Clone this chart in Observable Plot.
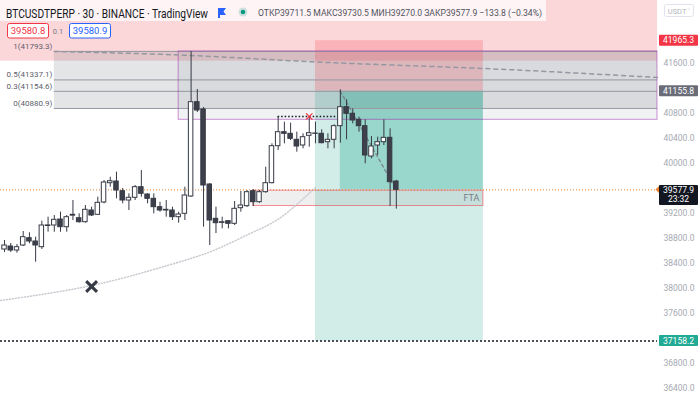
<!DOCTYPE html>
<html><head><meta charset="utf-8">
<script src="https://cdn.jsdelivr.net/npm/d3@7"></script>
<script src="https://cdn.jsdelivr.net/npm/@observablehq/plot@0.6"></script>
<style>
html,body{margin:0;padding:0;background:#fff;}
#chart{position:relative;width:700px;height:398px;overflow:hidden;}
svg{display:block}
</style></head><body><div id="chart"></div>
<script>
// ---- candle data (30m BTCUSDTPERP) ----
const opens  = [38624,38672,38608,38688,38805,38752,38661,39000,39008,39104,38981,39165,39125,39061,39248,39179,39376,39685,39712,39557,39408,39451,39621,39504,39435,39301,39259,39248,39141,39195,39472,40981,40864,39664,39115,39050,39077,39035,39285,39317,39557,39381,39541,39685,40277,40501,40475,40379,40288,40443,40480,40475,40341,40379,40597,40901,40795,40699,40597,40112,40288,40341,40411,39711.5];
const highs  = [38768,38720,38704,38912,38891,38821,39077,39141,39168,39221,39168,39408,39195,39328,39301,39461,39728,39781,39861,39600,39515,39648,39888,39515,39515,39381,39408,39301,39221,39621,41792,41184,40896,39680,39301,39141,39088,39392,39552,39568,39584,39568,39941,40315,40752,40661,40645,40501,40475,40752,40661,40539,40475,40619,41179,41019,40875,40741,40699,40432,40421,40699,40555,39730.5];
const lows   = [38576,38576,38565,38672,38715,38421,38624,38901,38901,38901,38901,39088,39045,39045,39152,39168,39355,39621,39435,39355,39248,39408,39461,39355,39195,39221,39141,39088,39045,39088,39456,40816,38981,38688,38880,38955,38955,39008,39221,39296,39312,39365,39525,39675,40208,40315,40368,40181,40235,40261,40315,40315,40235,40235,40325,40379,40635,40501,39995,40075,40128,40288,39312,39270.0];
const closes = [38688,38608,38661,38821,38752,38688,39008,39010,39099,38981,39141,39179,39061,39259,39168,39371,39696,39717,39568,39408,39451,39621,39515,39435,39301,39248,39248,39141,39184,39488,40981,40848,39648,39088,39045,39061,39035,39275,39328,39541,39381,39541,39685,40277,40501,40475,40395,40272,40421,40485,40475,40325,40379,40597,40901,40795,40688,40597,40128,40272,40341,40411,39701,39577.9];

// ---- axis ticks ----
const axisTicks = [36400,36800,37600,38000,38400,38800,39200,40000,40400,40800,41600];

// ---- fibonacci retracement ----
const fibLevels = [1,0.5,0.3,0];
const fibPrices = [41793.3,41337.1,41154.6,40880.9];
const fibStartBar = 8;

// ---- view ----
const leftBar = -0.65, rightBar = 105;
const priceMin = 36240, priceMax = 42608;

// ---- drawings ----
const lastPrice = 39577.9;
const pinkZone = [41637, 42800];
const rangeBoxBar = 28, rangeBoxLow = 40699, rangeBoxHigh = 41793.3;
const posStartBar = 50, posFilledBar = 54, posEndBar = 77;
const posEntry = 41155.8, posStop = 41965.3, posTarget = 37158.2;
const ftaBars = [40, 77], ftaPrices = [39320, 39565], ftaLabel = "FTA";
const sweepBars = [44, 53.5], sweepPrice = 40752, sweepMarkBar = 49;
const bigMarkBar = 14, bigMarkPrice = 38032;
const curveBars = [-0.65,14,26.2,33.6,39.5,44.4,50];
const curvePrices = [37808,38048,38368,38608,38880,39136,39616];
const dashBars = [8,30,52,77,105];
const dashPrices = [41792,41728,41616,41520,41376];

// ---- header texts ----
const symbolTitle = "BTCUSDTPERP · 30 · BINANCE · TradingView";
const ohlcText = "ОТКР39711.5 МАКС39730.5 МИН39270.0 ЗАКР39577.9 −133.8 (−0.34%)";
const sellPrice = "39580.8", spread = "0.1", buyPrice = "39580.9";
const currency = "USDT ˅";
const countdown = "23:32";

const candles = opens.map((o,i)=>({i, o, h:highs[i], l:lows[i], c:closes[i], up: closes[i] >= o}));
const zone = (x1,x2,y1,y2)=>[{x1,x2,y1,y2}];
const pts = (xs,ys)=>xs.map((x,k)=>({x, y: ys[k]}));

const chart = Plot.plot({
  width: 700, height: 398,
  marginLeft: 0, marginRight: 43, marginTop: 0, marginBottom: 0,
  x: {domain: [leftBar, rightBar], axis: null},
  y: {domain: [priceMin, priceMax], axis: null},
  color: {type: "identity"},
  style: {fontFamily: "Roboto, 'Noto Sans', sans-serif", fontSize: "8.5px", color: "#a6a9b2", background: "#fff"},
  marks: [
    Plot.rect(zone(leftBar, rightBar, pinkZone[0], pinkZone[1]), {x1:"x1",x2:"x2",y1:"y1",y2:"y2", fill:"#f23645", fillOpacity:0.2}),
    Plot.rect(zone(fibStartBar, rightBar, fibPrices[3], fibPrices[0]), {x1:"x1",x2:"x2",y1:"y1",y2:"y2", fill:"#787b86", fillOpacity:0.2}),
    Plot.rect(zone(rangeBoxBar, rightBar, rangeBoxLow, rangeBoxHigh), {x1:"x1",x2:"x2",y1:"y1",y2:"y2", fill:"#787b86", fillOpacity:0.1}),
    Plot.rect(zone(posStartBar, posEndBar, posEntry, posStop), {x1:"x1",x2:"x2",y1:"y1",y2:"y2", fill:"#f23645", fillOpacity:0.22}),
    Plot.rect(zone(posStartBar, posEndBar, posTarget, posEntry), {x1:"x1",x2:"x2",y1:"y1",y2:"y2", fill:"#089981", fillOpacity:0.18}),
    Plot.rect(zone(posFilledBar, posEndBar, lastPrice, posEntry), {x1:"x1",x2:"x2",y1:"y1",y2:"y2", fill:"#089981", fillOpacity:0.28}),
    Plot.rect(zone(ftaBars[0], ftaBars[1], ftaPrices[0], ftaPrices[1]), {x1:"x1",x2:"x2",y1:"y1",y2:"y2", fill:"#787b86", fillOpacity:0.12, stroke:"#f23645", strokeOpacity:0.55}),
    Plot.ruleY(fibPrices.map(p=>({p, x1: fibStartBar, x2: rightBar})), {y:"p", x1:"x1", x2:"x2", stroke:"#9598a1", strokeWidth:1}),
    Plot.rect(zone(rangeBoxBar, rightBar, rangeBoxLow, rangeBoxHigh), {x1:"x1",x2:"x2",y1:"y1",y2:"y2", fill:"none", stroke:"#9c27b0", strokeOpacity:0.5}),
    Plot.line(pts(dashBars, dashPrices), {x:"x", y:"y", stroke:"#9598a1", strokeDasharray:"4,4", curve:"natural"}),
    Plot.line(pts(curveBars, curvePrices), {x:"x", y:"y", stroke:"#c9cbd1", strokeDasharray:"1,2", curve:"natural"}),
    Plot.ruleY([lastPrice], {stroke:"#e9802e", strokeDasharray:"1,2", strokeWidth:1}),
    Plot.line(pts([posFilledBar, candles.length-1], [posEntry, lastPrice]), {x:"x", y:"y", stroke:"#787b86", strokeDasharray:"3,3", strokeOpacity:0.8}),
    Plot.ruleX(candles, {x:"i", y1:"l", y2:"h", stroke:"#363a45", strokeWidth:1}),
    Plot.rect(candles, {x1: d=>d.i-0.36, x2: d=>d.i+0.36, y1:"o", y2:"c", fill: d=>d.up ? "#ffffff" : "#3d404b", stroke:"#363a45", strokeWidth:1}),
    Plot.ruleY([{p: sweepPrice, x1: sweepBars[0], x2: sweepBars[1]}], {y:"p", x1:"x1", x2:"x2", stroke:"#131722", strokeDasharray:"1.5,2", strokeWidth:1.5}),
    Plot.dot([{x: sweepMarkBar, y: sweepPrice}], {x:"x", y:"y", symbol:"times", r:3, stroke:"#f23645", strokeWidth:1.2}),
    Plot.dot([{x: bigMarkBar, y: bigMarkPrice}], {x:"x", y:"y", symbol:"times", r:5, stroke:"#363a45", strokeWidth:3}),
    Plot.ruleY([posTarget], {stroke:"#131722", strokeDasharray:"2,2", strokeWidth:1.5}),
    Plot.text([{x: ftaBars[1], y: (ftaPrices[0]+ftaPrices[1])/2, t: ftaLabel}], {x:"x", y:"y", text:"t", textAnchor:"end", dx:-4, fill:"#787b86", fontSize:9}),
    Plot.text(fibLevels.map((l,k)=>({l, p: fibPrices[k], x: fibStartBar})), {x:"x", y:"p", text: d=>`${d.l}(${d.p.toFixed(1)})`, textAnchor:"end", dx:-2, dy:-5, fill:"#5d606b", fontSize:8}),
    Plot.axisY(axisTicks, {anchor:"right", tickSize:0, tickPadding:6, tickFormat: d=>d.toFixed(1), fontSize:8.5, fill:"#a6a9b2"})
  ]
});
document.getElementById("chart").appendChild(chart);

const svg = d3.select(chart);
const yS = chart.scale("y");

// price badges on the axis
const badges = [
  {p: posStop, bg:"#f23645"},
  {p: posEntry, bg:"#6a6d78"},
  {p: posTarget, bg:"#22ab94"}
];
const bg = svg.append("g").attr("font-family","Roboto, sans-serif").attr("font-size",8.5).attr("text-anchor","middle");
badges.forEach(b=>{
  const y = yS.apply(b.p);
  bg.append("rect").attr("x",659).attr("y",y-5.5).attr("width",39).attr("height",11).attr("fill",b.bg).attr("rx",1);
  bg.append("text").attr("x",678.5).attr("y",y+3).attr("fill","#fff").text(b.p.toFixed(1));
});
{
  const y = yS.apply(lastPrice);
  bg.append("rect").attr("x",659).attr("y",y-4.5).attr("width",39).attr("height",20).attr("fill","#131722").attr("rx",1);
  bg.append("path").attr("d",`M655.5,${y} L659,${y-3.5} L659,${y+3.5} Z`).attr("fill","#e9802e");
  bg.append("text").attr("x",678.5).attr("y",y+3.5).attr("fill","#fff").text(lastPrice.toFixed(1));
  bg.append("text").attr("x",678.5).attr("y",y+13).attr("fill","#fff").text(countdown);
}

// header legend
const hg = svg.append("g").attr("font-family","Roboto, 'Noto Sans', sans-serif").attr("text-anchor","start");
hg.append("rect").attr("x",0).attr("y",0).attr("width",546).attr("height",21).attr("fill","#fff").attr("fill-opacity",0.72);
hg.append("text").attr("x",6).attr("y",17.5).attr("font-size",12.5).attr("fill","#131722").attr("textLength",202).attr("lengthAdjust","spacingAndGlyphs").text(symbolTitle);
hg.append("path").attr("d","M218,8 H226 L223.5,11.5 L226,15 H220 V18 H218 Z").attr("fill","#2962ff");
hg.append("circle").attr("cx",243).attr("cy",12).attr("r",4.5).attr("fill","#089981").attr("fill-opacity",0.2);
hg.append("circle").attr("cx",243).attr("cy",12).attr("r",2.3).attr("fill","#089981");
hg.append("text").attr("x",258).attr("y",16).attr("font-size",9).attr("fill","#50535e").attr("textLength",284).attr("lengthAdjust","spacingAndGlyphs").text(ohlcText);

// trade buttons
hg.append("rect").attr("x",7.5).attr("y",23.5).attr("width",41).attr("height",14.5).attr("rx",2).attr("fill","#fff").attr("stroke","#f23645");
hg.append("text").attr("x",28).attr("y",34).attr("text-anchor","middle").attr("font-size",9.5).attr("fill","#f23645").text(sellPrice);
hg.append("text").attr("x",58).attr("y",33.5).attr("text-anchor","middle").attr("font-size",7.5).attr("fill","#787b86").text(spread);
hg.append("rect").attr("x",69.5).attr("y",23.5).attr("width",41).attr("height",14.5).attr("rx",2).attr("fill","#fff").attr("stroke","#2962ff");
hg.append("text").attr("x",90).attr("y",34).attr("text-anchor","middle").attr("font-size",9.5).attr("fill","#2962ff").text(buyPrice);

// currency button
hg.append("rect").attr("x",664.5).attr("y",4.5).attr("width",29).attr("height",12).attr("rx",2).attr("fill","#fff").attr("stroke","#e0e3eb");
hg.append("text").attr("x",679).attr("y",13.5).attr("text-anchor","middle").attr("font-size",7.5).attr("fill","#b2b5be").text(currency);
</script>
</body></html>
